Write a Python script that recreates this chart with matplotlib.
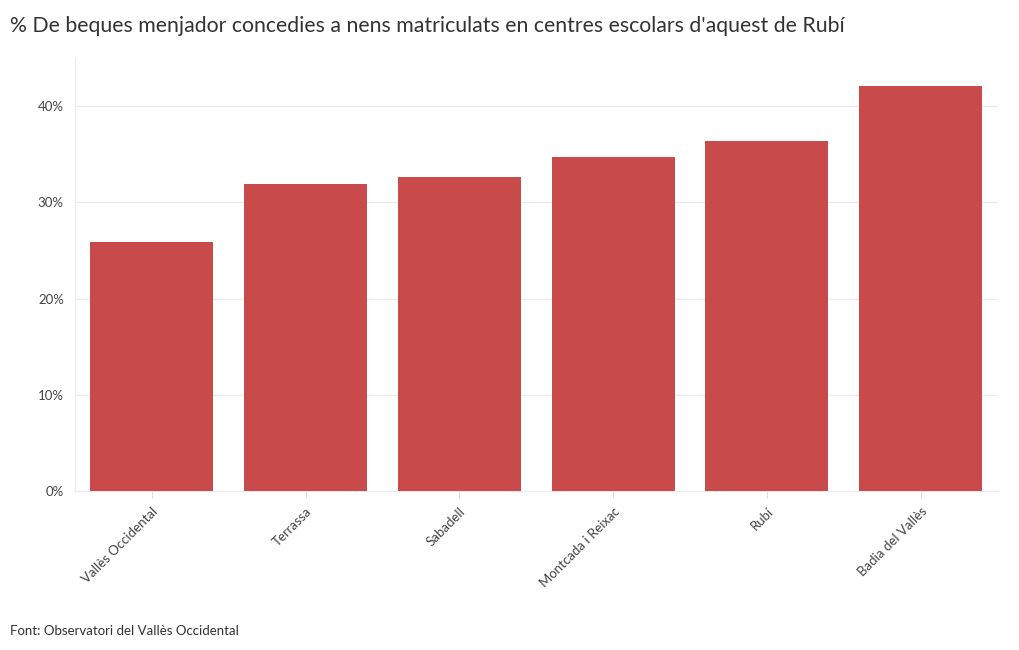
import matplotlib
matplotlib.use("Agg")
import matplotlib.pyplot as plt
from matplotlib.ticker import FuncFormatter

# Dades
municipis = ["Vallès Occidental", "Terrassa", "Sabadell", "Montcada i Reixac", "Rubí", "Badia del Vallès"]
percentatges = [25.9, 31.9, 32.6, 34.7, 36.4, 42.1]
titol = "% De beques menjador concedies a nens matriculats en centres escolars d'aquest de Rubí"
font_dades = "Font: Observatori del Vallès Occidental"

plt.rcParams["font.family"] = ["Lato", "DejaVu Sans"]

fig = plt.figure(figsize=(10.2, 6.5), dpi=100)
ax = fig.add_axes([0.0735, 0.2446, 0.9045, 0.6662])

x = range(len(municipis))
ax.bar(x, percentatges, width=0.8, color="#c94a4a", zorder=3)

ax.set_xlim(-0.5, len(municipis) - 0.5)
ax.set_ylim(0, 45)
ax.set_yticks([0, 10, 20, 30, 40])
ax.yaxis.set_major_formatter(FuncFormatter(lambda v, p: f"{v:.0f}%"))
ax.grid(axis="y", color="#ebebeb", linewidth=0.8, zorder=0)

ax.set_xticks(list(x))
ax.set_xticklabels(municipis, rotation=45, ha="right", rotation_mode="anchor")

for s in ["top", "right"]:
    ax.spines[s].set_visible(False)
ax.spines["left"].set_color("#ebebeb")
ax.spines["bottom"].set_color("#ebebeb")
ax.tick_params(axis="x", colors="#444444", labelsize=9.5, length=5, color="#dddddd", pad=5)
ax.tick_params(axis="y", colors="#444444", labelsize=9.5, length=0, pad=8)

fig.text(0.0098, 0.960, titol, fontsize=15.3, color="#333333", va="center", ha="left")
fig.text(0.0098, 0.029, font_dades, fontsize=9.5, color="#333333", va="center", ha="left")

fig.savefig("out.png", dpi=100)
